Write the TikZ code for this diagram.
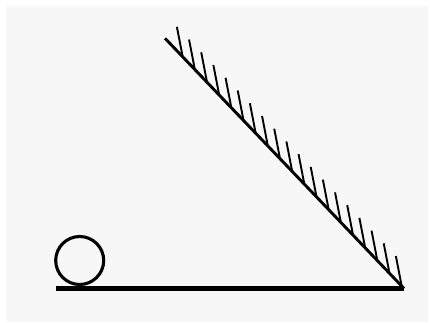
\documentclass[tikz,border=0pt]{standalone}
\usetikzlibrary{calc}
\definecolor{bg}{HTML}{F7F7F7}
\begin{document}
\begin{tikzpicture}[x=1pt,y=-1pt,
  ground/.style={line width=4.3pt},
  incline/.style={line width=2.9pt},
  hatch/.style={line width=1.9pt},
  ball/.style={line width=3.1pt}]
\useasboundingbox (0,0) rectangle (430,323);
\fill[white] (0,0) rectangle (430,323);
\fill[bg] (6,6) rectangle (428,322);
\coordinate (A) at (165,38.3);
\coordinate (B) at (404,288.5);
\coordinate (G) at (56,288.5);
\foreach \k in {0,...,18}{
  \pgfmathsetmacro{\t}{0.074+\k*0.0509}
  \draw[hatch] ($(A)!\t!(B)$) -- ++(-5.8,-30);
}
\draw[incline] (A) -- (B);
\draw[ground] (G) -- (B);
\draw[ball] (79.7,260.5) circle[radius=24];
\end{tikzpicture}
\end{document}
